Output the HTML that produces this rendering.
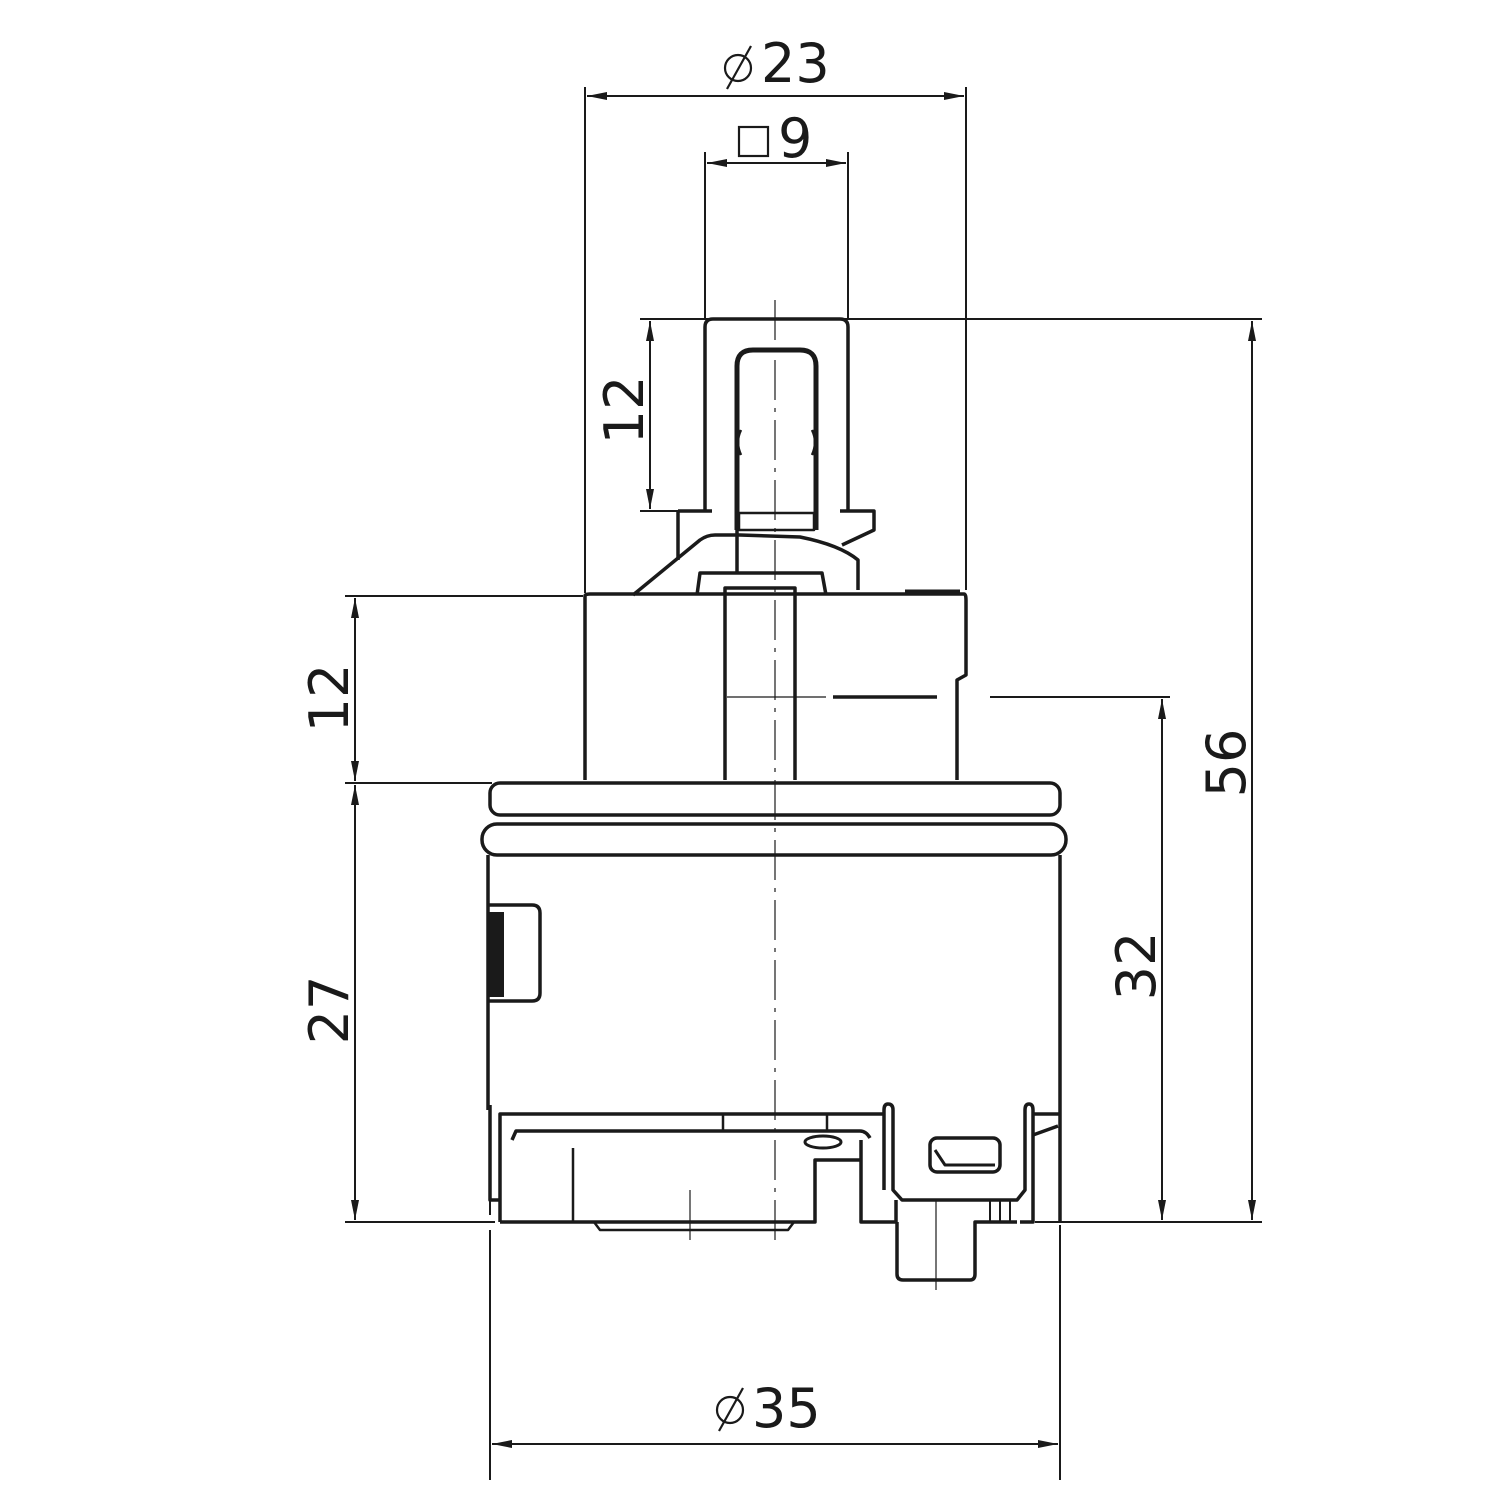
<!DOCTYPE html>
<html><head><style>html,body{margin:0;padding:0;background:#fff;overflow:hidden}svg{display:block}</style></head>
<body>
<svg width="1500" height="1500" viewBox="0 0 1500 1500" xmlns="http://www.w3.org/2000/svg">
<defs>
<marker id="a" viewBox="0 0 20 8" refX="20" refY="4" markerWidth="20" markerHeight="8" markerUnits="userSpaceOnUse" orient="auto-start-reverse"><path d="M0,0 L20,4 L0,8 Z" fill="#1a1a1a"/></marker>
</defs>
<g stroke="#1a1a1a" fill="none" stroke-width="2">
<line x1="585" y1="87" x2="585" y2="593"/>
<line x1="966" y1="87" x2="966" y2="590"/>
<line x1="705" y1="152" x2="705" y2="320"/>
<line x1="848" y1="152" x2="848" y2="320"/>
<line x1="640" y1="319" x2="1262" y2="319"/>
<line x1="640" y1="511" x2="700" y2="511"/>
<line x1="345" y1="596" x2="583" y2="596"/>
<line x1="345" y1="783" x2="492" y2="783"/>
<line x1="345" y1="1222" x2="495" y2="1222"/>
<line x1="1035" y1="1222" x2="1262" y2="1222"/>
<line x1="990" y1="697" x2="1170" y2="697"/>
<line x1="490" y1="1230" x2="490" y2="1480"/>
<line x1="1060" y1="1225" x2="1060" y2="1480"/>
<line x1="490" y1="1200" x2="490" y2="1215"/>
<line x1="587" y1="96" x2="964" y2="96" marker-start="url(#a)" marker-end="url(#a)"/>
<line x1="707" y1="163" x2="846" y2="163" marker-start="url(#a)" marker-end="url(#a)"/>
<line x1="650" y1="321" x2="650" y2="509" marker-start="url(#a)" marker-end="url(#a)"/>
<line x1="355" y1="598" x2="355" y2="781" marker-start="url(#a)" marker-end="url(#a)"/>
<line x1="355" y1="785" x2="355" y2="1220" marker-start="url(#a)" marker-end="url(#a)"/>
<line x1="1162" y1="699" x2="1162" y2="1220" marker-start="url(#a)" marker-end="url(#a)"/>
<line x1="1252" y1="321" x2="1252" y2="1220" marker-start="url(#a)" marker-end="url(#a)"/>
<line x1="492" y1="1444" x2="1058" y2="1444" marker-start="url(#a)" marker-end="url(#a)"/>
<line x1="775" y1="300" x2="775" y2="1245" stroke-width="1.2" stroke-dasharray="40,8,4,8"/>
<line x1="727" y1="697" x2="826" y2="697" stroke-width="1.2"/>
<line x1="690" y1="1190" x2="690" y2="1240" stroke-width="1.2"/>
<line x1="936" y1="1200" x2="936" y2="1290" stroke-width="1.2"/>
</g>
<g stroke="#1a1a1a" fill="none" stroke-width="3.5" stroke-linejoin="round">
<path d="M705,511 V327 Q705,319 713,319 H840 Q848,319 848,327 V511"/>
<path d="M678,511 H712 M840,511 H874 V530 L842,545"/>
<line x1="678" y1="511" x2="678" y2="560"/>
<path d="M737,530 V366 Q737,350 753,350 H800 Q816,350 816,366 V530" stroke-width="5"/>
<path d="M741,430 Q735,442 741,455 M812,430 Q818,442 812,455" stroke-width="2.5"/>
<rect x="739" y="513" width="75" height="17" stroke-width="2.5"/>
<path d="M633,595 L700,540 Q707,535 715,535 H740 L800,537 Q840,545 858,560 V590"/>
<path d="M737,530 V573 M697,595 L700,573 H822 L826,595"/>
<path d="M725,780 V588 H795 V780"/>
<path d="M585,780 V596 Q585,594 590,594 H964 Q966,594 966,600 V675 L957,680 V780"/>
<line x1="833" y1="697" x2="937" y2="697"/>
<line x1="905" y1="591" x2="960" y2="591" stroke-width="3"/>
<rect x="490" y="783" width="570" height="32" rx="10"/>
<rect x="482" y="824" width="584" height="31" rx="15"/>
<path d="M488,855 V1110 M1060,855 V1222"/>
<path d="M488,905 H532 Q540,905 540,913 V993 Q540,1001 532,1001 H488"/>
<rect x="489" y="912" width="15" height="85" fill="#1a1a1a" stroke="none"/>
<path d="M500,1222 V1114 H884"/>
<path d="M490,1105 V1200 H500"/>
<path d="M512,1140 L516,1131 H860 Q866,1131 870,1138"/>
<line x1="723" y1="1114" x2="723" y2="1131" stroke-width="2.5"/>
<line x1="827" y1="1114" x2="827" y2="1131" stroke-width="2.5"/>
<line x1="573" y1="1148" x2="573" y2="1222" stroke-width="2.5"/>
<path d="M500,1222 H815 V1160 H861 M861,1140 V1222 H896"/>
<path d="M594,1222 L600,1230 H788 L794,1222" stroke-width="2.5"/>
<ellipse cx="823" cy="1142" rx="18" ry="6" stroke-width="3"/>
<path d="M884,1190 V1110 Q884,1104 888,1104 Q893,1104 893,1110 V1190 L902,1200 H1017 L1025,1190 V1110 Q1025,1104 1029,1104 Q1033,1104 1033,1110 V1222 H1020"/>
<path d="M1033,1114 H1060 M1033,1135 L1058,1126"/>
<rect x="930" y="1138" width="70" height="34" rx="7"/>
<path d="M935,1150 L945,1165 H995" stroke-width="3"/>
<path d="M896,1200 V1222 M897,1222 V1274 Q897,1280 903,1280 H970 Q975,1280 975,1274 V1222 H1017"/>
<path d="M990,1200 V1222 M1000,1200 V1222 M1010,1200 V1222" stroke-width="2"/>
</g>
<g stroke="#1a1a1a" fill="none" stroke-width="2.2">
<circle cx="738" cy="68" r="13"/><line x1="727" y1="89" x2="751" y2="46"/>
<rect x="739" y="127" width="29" height="29"/>
<circle cx="730" cy="1410" r="13"/><line x1="719" y1="1431" x2="743" y2="1388"/>
</g>
<g font-family="'DejaVu Sans','Liberation Sans',sans-serif" font-size="54" fill="#1a1a1a">
<text x="761" y="82">23</text>
<text x="778" y="157">9</text>
<text x="752" y="1427">35</text>
<text transform="translate(643,410) rotate(-90)" text-anchor="middle">12</text>
<text transform="translate(348,698) rotate(-90)" text-anchor="middle">12</text>
<text transform="translate(348,1010) rotate(-90)" text-anchor="middle">27</text>
<text transform="translate(1155,966) rotate(-90)" text-anchor="middle">32</text>
<text transform="translate(1245,763) rotate(-90)" text-anchor="middle">56</text>
</g>
</svg>
</body></html>
